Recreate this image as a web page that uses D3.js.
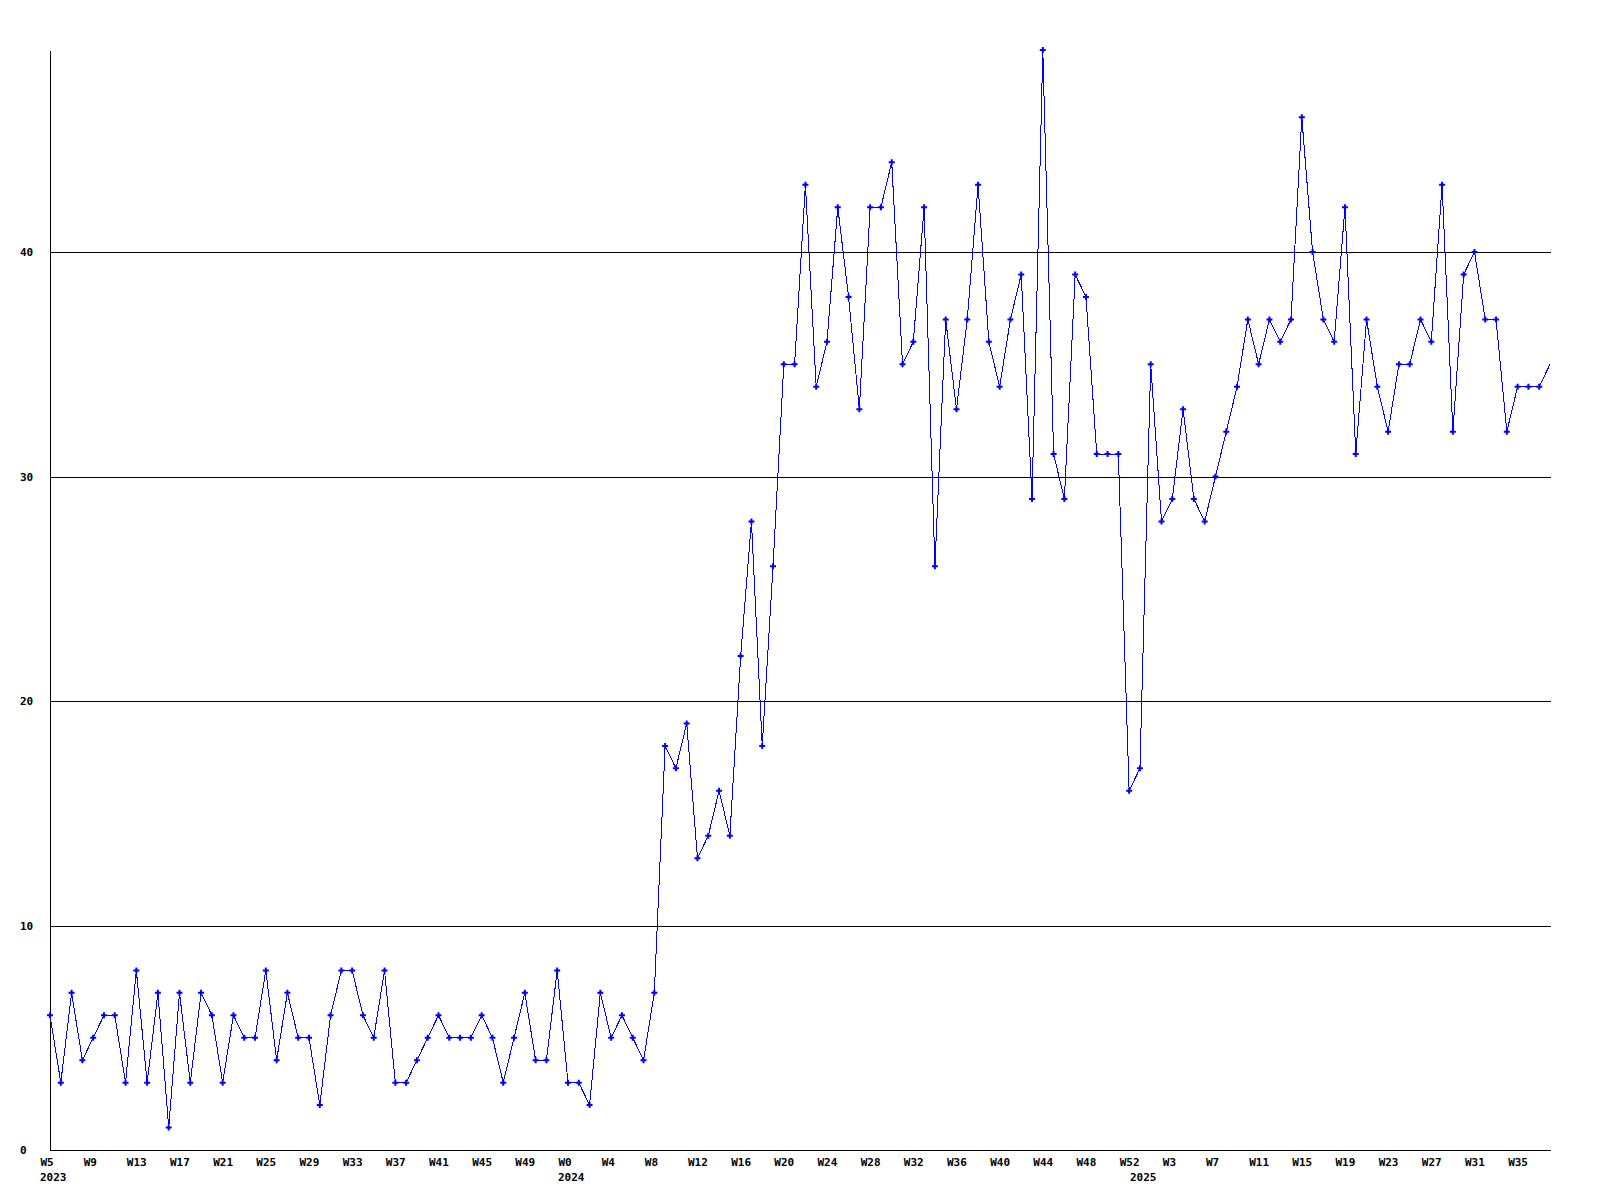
<!DOCTYPE html>
<html>
<head>
<meta charset="utf-8">
<script src="https://cdn.jsdelivr.net/npm/d3@7"></script>
<style>
  body { margin: 0; background: #fff; }
  text { font-family: "DejaVu Sans Mono", monospace; font-weight: bold; font-size: 11px; fill: #000; }
</style>
</head>
<body>
<div id="chart"></div>
<script>
/* weekly counts, 2023 W5 - 2025 W38 */

const years = [2023, 2024, 2025];
const firstWeek = [5, 0, 0];
const lastWeek = [52, 52, 38];

const values2023 = [6, 3, 7, 4, 5, 6, 6, 3, 8, 3, 7, 1, 7, 3, 7, 6, 3, 6, 5, 5, 8, 4, 7, 5,
    5, 2, 6, 8, 8, 6, 5, 8, 3, 3, 4, 5, 6, 5, 5, 5, 6, 5, 3, 5, 7, 4, 4, 8];
const values2024 = [3, 3, 2, 7, 5, 6, 5, 4, 7, 18, 17, 19, 13, 14, 16, 14, 22, 28, 18, 26,
    35, 35, 43, 34, 36, 42, 38, 33, 42, 42, 44, 35, 36, 42, 26, 37, 33, 37, 43, 36, 34, 37,
    39, 29, 49, 31, 29, 39, 38, 31, 31, 31, 16];
const values2025 = [17, 35, 28, 29, 33, 29, 28, 30, 32, 34, 37, 35, 37, 36, 37, 46, 40, 37,
    36, 42, 31, 37, 34, 32, 35, 35, 37, 36, 43, 32, 39, 40, 37, 37, 32, 34, 34, 34, 35];

const yTicks = [0, 10, 20, 30, 40];
const tickEvery = 4;

// build the week list
let data = [];
const yearValues = [values2023, values2024, values2025];
years.forEach((yr, i) => {
    for (let w = firstWeek[i]; w <= lastWeek[i]; w++) {
        data.push({ year: yr, week: "W" + w, value: yearValues[i][w - firstWeek[i]], first: w === firstWeek[i] });
    }
});
data.forEach((d, i) => d.i = i);

const width = 1600,
    height = 1200,
    margin = ({ top: 50, right: 50, bottom: 50, left: 50 });

let svg = d3.select("#chart")
    .append("svg")
    .attr("width", width)
    .attr("height", height);

let x = d3.scaleLinear()
    .domain([0, data.length - 1])
    .range([margin.left, width - margin.right]);

let y = d3.scaleLinear()
    .domain([0, 49])
    .range([height - margin.bottom, margin.top]);

// y axis with grid lines
let yAxis = svg.append("g")
    .attr("transform", `translate(${margin.left},0)`)
    .call(d3.axisLeft(y)
        .tickValues(yTicks)
        .tickSize(-(width - margin.left - margin.right + 1))
        .tickSizeOuter(0));

yAxis.selectAll("path, line")
    .attr("stroke", "#000")
    .attr("shape-rendering", "crispEdges");
yAxis.selectAll("text")
    .attr("x", -30)
    .attr("dy", "0.35em")
    .attr("text-anchor", "start");
yAxis.attr("font-size", null).attr("font-family", null);

// x axis
let xAxis = svg.append("g")
    .attr("transform", `translate(0,${height - margin.bottom})`)
    .call(d3.axisBottom(x)
        .tickValues(data.filter(d => d.i % tickEvery === 0).map(d => d.i))
        .tickFormat(i => data[i].week)
        .tickSize(0));

xAxis.select(".domain")
    .attr("stroke", "#000")
    .attr("shape-rendering", "crispEdges")
    .attr("d", `M${margin.left},0.5H${width - margin.right + 1}`);
xAxis.selectAll("text")
    .attr("x", -10)
    .attr("y", 16)
    .attr("dy", null)
    .attr("text-anchor", "start");
xAxis.attr("font-size", null).attr("font-family", null);

// year labels under first week of each year
svg.selectAll(".year")
    .data(data.filter(d => d.first))
    .join("text")
    .attr("class", "year")
    .attr("x", d => x(d.i) - 10)
    .attr("y", height - margin.bottom + 31)
    .text(d => d.year);

// line
let line = d3.line()
    .x(d => x(d.i))
    .y(d => y(d.value));

svg.append("path")
    .datum(data)
    .attr("fill", "none")
    .attr("stroke", "#0000ff")
    .attr("stroke-width", 1)
    .attr("shape-rendering", "crispEdges")
    .attr("d", line);

// point markers (last point has none)
svg.selectAll(".pt")
    .data(data.slice(0, -1))
    .join("path")
    .attr("class", "pt")
    .attr("fill", "#0000ff")
    .attr("transform", d => `translate(${x(d.i)},${y(d.value)})`)
    .attr("d", d3.symbol(d3.symbolCross, 20));
</script>
</body>
</html>
